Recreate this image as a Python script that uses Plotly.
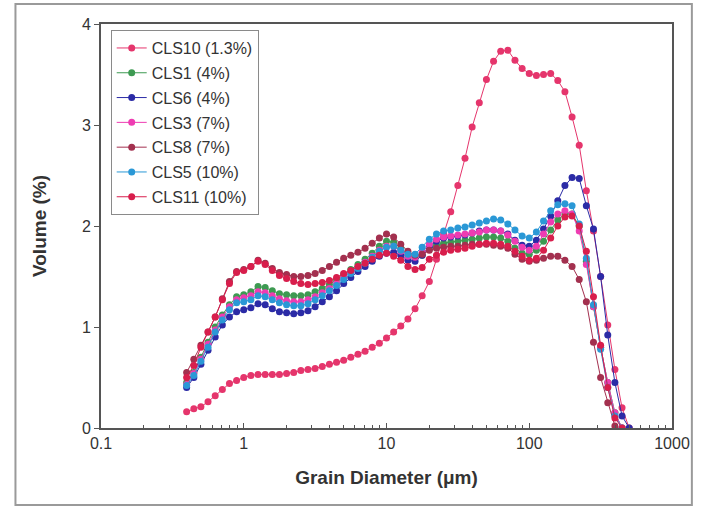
import plotly.graph_objects as go

# Grain diameter channels (µm)
diameter = [0.398, 0.447, 0.501, 0.562, 0.631, 0.708, 0.794, 0.891, 1.000, 1.122,
            1.259, 1.413, 1.585, 1.778, 1.995, 2.239, 2.512, 2.818, 3.162, 3.548,
            3.981, 4.467, 5.012, 5.623, 6.310, 7.079, 7.943, 8.913, 10.00, 11.22,
            12.59, 14.13, 15.85, 17.78, 19.95, 22.39, 25.12, 28.18, 31.62, 35.48,
            39.81, 44.67, 50.12, 56.23, 63.10, 70.79, 79.43, 89.13, 100.0, 112.2,
            125.9, 141.3, 158.5, 177.8, 199.5, 223.9, 251.2, 281.8, 316.2, 354.8,
            398.1, 446.7, 501.2]

cls10 = [0.16, 0.19, 0.21, 0.26, 0.32, 0.38, 0.44, 0.47, 0.50, 0.52,
         0.53, 0.53, 0.53, 0.53, 0.54, 0.55, 0.57, 0.58, 0.59, 0.61,
         0.63, 0.65, 0.67, 0.70, 0.73, 0.76, 0.80, 0.84, 0.89, 0.95,
         1.01, 1.08, 1.18, 1.31, 1.45, 1.67, 1.92, 2.14, 2.40, 2.67,
         2.98, 3.22, 3.45, 3.63, 3.73, 3.74, 3.64, 3.56, 3.51, 3.49,
         3.50, 3.51, 3.44, 3.33, 3.08, 2.80, 2.35, 1.95, 1.50, 1.02,
         0.58, 0.20, 0.0]
cls1 = [0.45, 0.55, 0.70, 0.85, 1.00, 1.12, 1.22, 1.30, 1.32, 1.35,
        1.40, 1.39, 1.36, 1.33, 1.32, 1.31, 1.31, 1.32, 1.35, 1.38,
        1.42, 1.47, 1.52, 1.57, 1.62, 1.67, 1.73, 1.80, 1.85, 1.84,
        1.78, 1.71, 1.68, 1.71, 1.77, 1.81, 1.83, 1.84, 1.85, 1.86,
        1.87, 1.88, 1.89, 1.89, 1.88, 1.85, 1.78, 1.73, 1.72, 1.76,
        1.85, 1.96, 2.06, 2.12, 2.12, 2.00, 1.65, 1.20, 0.80, 0.45,
        0.15, 0.0, None]
cls6 = [0.40, 0.50, 0.63, 0.77, 0.90, 1.02, 1.10, 1.15, 1.17, 1.19,
        1.23, 1.22, 1.18, 1.15, 1.14, 1.13, 1.14, 1.16, 1.20, 1.25,
        1.30, 1.36, 1.43, 1.49, 1.55, 1.60, 1.65, 1.70, 1.73, 1.74,
        1.71, 1.66, 1.65, 1.71, 1.80, 1.85, 1.88, 1.89, 1.90, 1.91,
        1.93, 1.95, 1.96, 1.96, 1.95, 1.92, 1.86, 1.81, 1.80, 1.86,
        1.97, 2.10, 2.25, 2.40, 2.48, 2.47, 2.20, 1.97, 1.50, 0.92,
        0.45, 0.12, 0.0]
cls3 = [0.43, 0.54, 0.68, 0.83, 0.97, 1.10, 1.20, 1.27, 1.29, 1.31,
        1.35, 1.34, 1.31, 1.28, 1.26, 1.25, 1.25, 1.27, 1.30, 1.34,
        1.38, 1.43, 1.49, 1.54, 1.59, 1.64, 1.70, 1.76, 1.80, 1.80,
        1.75, 1.70, 1.69, 1.74, 1.82, 1.87, 1.89, 1.90, 1.91, 1.92,
        1.93, 1.94, 1.96, 1.96, 1.95, 1.91, 1.85, 1.79, 1.76, 1.80,
        1.92, 2.04, 2.12, 2.15, 2.12, 1.95, 1.62, 1.20, 0.80, 0.45,
        0.15, 0.0, None]
cls8 = [0.55, 0.68, 0.82, 0.95, 1.10, 1.28, 1.45, 1.55, 1.57, 1.60,
        1.66, 1.63, 1.58, 1.54, 1.52, 1.50, 1.50, 1.51, 1.53, 1.56,
        1.60, 1.64, 1.68, 1.71, 1.74, 1.78, 1.83, 1.88, 1.92, 1.89,
        1.82, 1.75, 1.71, 1.72, 1.76, 1.78, 1.79, 1.80, 1.80, 1.81,
        1.82, 1.82, 1.82, 1.81, 1.80, 1.78, 1.72, 1.67, 1.65, 1.66,
        1.68, 1.70, 1.70, 1.66, 1.60, 1.47, 1.25, 0.85, 0.50, 0.25,
        0.02, None, None]
cls5 = [0.42, 0.52, 0.66, 0.80, 0.95, 1.07, 1.17, 1.24, 1.25, 1.27,
        1.31, 1.30, 1.27, 1.24, 1.22, 1.21, 1.21, 1.23, 1.27, 1.31,
        1.36, 1.41, 1.47, 1.53, 1.58, 1.63, 1.69, 1.75, 1.79, 1.80,
        1.76, 1.72, 1.72, 1.79, 1.87, 1.92, 1.95, 1.96, 1.98, 1.99,
        2.01, 2.03, 2.05, 2.07, 2.06, 2.02, 1.96, 1.90, 1.88, 1.94,
        2.05, 2.15, 2.21, 2.22, 2.20, 2.02, 1.68, 1.22, 0.78, 0.40,
        0.12, 0.0, None]
cls11 = [0.50, 0.62, 0.80, 0.95, 1.10, 1.27, 1.43, 1.54, 1.56, 1.60,
         1.65, 1.62, 1.56, 1.51, 1.48, 1.45, 1.43, 1.42, 1.43, 1.44,
         1.46, 1.49, 1.53, 1.56, 1.60, 1.63, 1.67, 1.71, 1.73, 1.70,
         1.66, 1.60, 1.57, 1.59, 1.67, 1.71, 1.74, 1.76, 1.77, 1.78,
         1.80, 1.82, 1.83, 1.83, 1.82, 1.80, 1.75, 1.70, 1.66, 1.68,
         1.76, 1.88, 2.00, 2.09, 2.10, 2.00, 1.75, 1.30, 0.82, 0.40,
         0.10, 0.0, None]

series_names = ["CLS10 (1.3%)", "CLS1 (4%)", "CLS6 (4%)", "CLS3 (7%)",
                "CLS8 (7%)", "CLS5 (10%)", "CLS11 (10%)"]
series_values = [cls10, cls1, cls6, cls3, cls8, cls5, cls11]
series_colors = ["#e5356c", "#3d9a52", "#2b2ba6", "#ee3cb2",
                 "#a3304f", "#2a98d6", "#d81e4c"]

x_tickvals = [0.1, 1, 10, 100, 1000]
x_ticktext = ["0.1", "1", "10", "100", "1000"]
y_tickvals = [0, 1, 2, 3, 4]

fig = go.Figure()
for i, (name, vals, col) in enumerate(zip(series_names, series_values, series_colors)):
    fig.add_trace(go.Scatter(
        x=diameter, y=vals, name=name, mode="lines+markers",
        line=dict(color=col, width=1),
        marker=dict(symbol="circle", size=7, color=col),
        legendgroup="g%d" % i,
        connectgaps=False,
    ))

minor_vals = [m * 10 ** e for e in range(-1, 3) for m in range(2, 10)]

font_family = "Liberation Sans, Arial, sans-serif"
fig.update_layout(
    width=702, height=512,
    margin=dict(l=101, r=27, t=24, b=84),
    paper_bgcolor="white", plot_bgcolor="white",
    font=dict(family=font_family, size=16, color="#333333"),
    showlegend=True,
    legend=dict(x=0.017, y=0.985, xanchor="left", yanchor="top",
                bgcolor="white", bordercolor="#8a8a8a", borderwidth=1,
                font=dict(size=16, color="#333333"),
                tracegroupgap=1, itemwidth=30),
    xaxis=dict(type="log", range=[-1, 3],
               tickmode="array", tickvals=x_tickvals, ticktext=x_ticktext,
               ticks="inside", ticklen=5, tickcolor="#555555",
               minor=dict(tickmode="array", tickvals=minor_vals, ticks="inside",
                          ticklen=3, tickcolor="#555555"),
               showgrid=False, zeroline=False,
               showline=True, mirror=True, linecolor="#555555", linewidth=2,
               tickfont=dict(size=16, color="#333333"),
               title=dict(text="Grain Diameter (\u03bcm)",
                          font=dict(size=19, color="#333333", weight="bold"),
                          standoff=19)),
    yaxis=dict(range=[0, 4], tickmode="array", tickvals=y_tickvals,
               ticks="outside", ticklen=5, tickcolor="#555555",
               showgrid=False, zeroline=False,
               showline=True, mirror=True, linecolor="#555555", linewidth=2,
               tickfont=dict(size=16, color="#333333"),
               title=dict(text="Volume (%)",
                          font=dict(size=19, color="#333333", weight="bold"),
                          standoff=30)),
    shapes=[dict(type="rect", xref="paper", yref="paper",
                 x0=-0.1498, x1=1.0348, y0=-0.1906, y1=1.0495,
                 line=dict(color="#9a9a9a", width=2), layer="below")],
)

fig.write_html("out.html")
